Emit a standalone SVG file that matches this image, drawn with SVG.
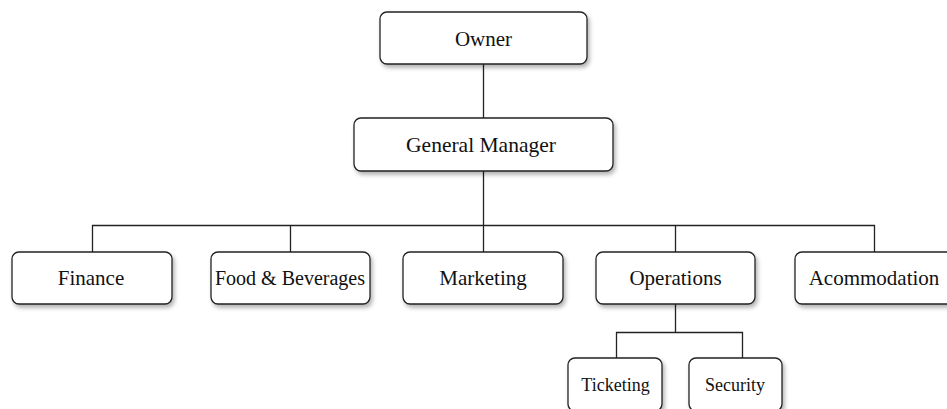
<svg xmlns="http://www.w3.org/2000/svg" width="947" height="409" viewBox="0 0 947 409">
<defs>
<filter id="sh" x="-20%" y="-20%" width="140%" height="160%">
<feDropShadow dx="2" dy="3" stdDeviation="2" flood-color="#000" flood-opacity="0.3"/>
</filter>
<style>
.box{fill:#fff;stroke:#222;stroke-width:1.3;filter:url(#sh)}
.t{font-family:"Liberation Serif","Times New Roman",serif;font-size:21px;fill:#111;text-anchor:middle}
.s{font-size:18px}
.c{fill:none;stroke:#222;stroke-width:1.3}
</style>
</defs>
<rect width="947" height="409" fill="#fff"/>
<g id="connectors">
<path class="c" d="M483.5 64V118M483.5 171V225.5M92.5 252V225.5H874.5V252M290.5 225.5V252M483.5 225.5V252M675.5 225.5V252M675.5 304V332.5M616.5 358V332.5H742.5V358"/>
</g>
<g id="owner"><rect class="box" x="380" y="12" width="207" height="52" rx="7"/><text class="t" x="483.5" y="45.5">Owner</text></g>
<g id="gm"><rect class="box" x="354" y="118" width="259" height="53" rx="7"/><text class="t" x="481" y="152" style="font-size:21.5px">General Manager</text></g>
<g id="finance"><rect class="box" x="12" y="252" width="160" height="52" rx="7"/><text class="t" x="91" y="285">Finance</text></g>
<g id="food"><rect class="box" x="211" y="252" width="159" height="52" rx="7"/><text class="t" x="290" y="285" style="font-size:20px">Food &amp; Beverages</text></g>
<g id="marketing"><rect class="box" x="403" y="252" width="160" height="52" rx="7"/><text class="t" x="483" y="285">Marketing</text></g>
<g id="operations"><rect class="box" x="596" y="252" width="159" height="52" rx="7"/><text class="t" x="675.5" y="285">Operations</text></g>
<g id="acommodation"><rect class="box" x="795" y="252" width="159" height="52" rx="7"/><text class="t" x="874" y="285">Acommodation</text></g>
<g id="ticketing"><rect class="box" x="568" y="358" width="94" height="53" rx="7"/><text class="t s" x="615.5" y="391">Ticketing</text></g>
<g id="security"><rect class="box" x="689" y="358" width="93" height="53" rx="7"/><text class="t s" x="735" y="391">Security</text></g>
</svg>
